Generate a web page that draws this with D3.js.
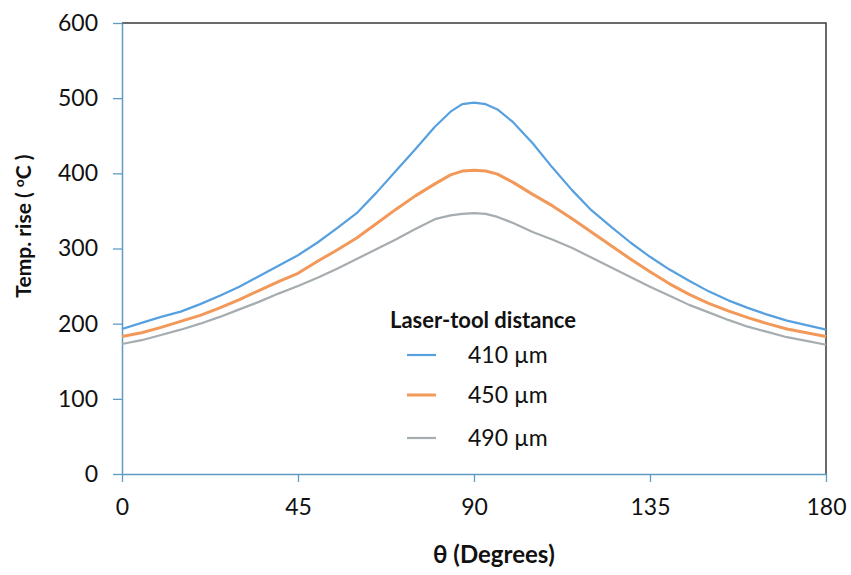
<!DOCTYPE html>
<html>
<head>
<meta charset="utf-8">
<script src="https://cdn.jsdelivr.net/npm/d3@7"></script>
<style>
  html, body { margin: 0; padding: 0; background: #fff; }
  svg { display: block; }
  text { font-family: Lato, "Open Sans", sans-serif; fill: #111; }
</style>
</head>
<body>
<svg id="chart" width="851" height="575"></svg>
<script>
// Angle positions (degrees) at which the temperature rise was sampled
const theta = [0, 5, 10, 15, 20, 25, 30, 35, 40, 45, 50, 55, 60, 65, 70, 75, 80, 84, 87, 90,
               93, 96, 100, 105, 110, 115, 120, 125, 130, 135, 140, 145, 150, 155, 160, 165, 170, 175, 180];

// Temperature rise (°C) for each laser-tool distance
const rise410 = [193, 201, 209, 216, 226, 237, 249, 263, 277, 291, 308, 327, 347, 374, 403, 432, 462, 482, 492, 494,
                 492, 485, 468, 440, 408, 378, 351, 329, 308, 289, 272, 257, 243, 231, 221, 212, 204, 198, 192];
const rise450 = [183, 188, 195, 203, 211, 221, 232, 244, 256, 267, 283, 298, 314, 333, 352, 370, 386, 398, 403, 404,
                 403, 399, 388, 372, 357, 340, 322, 304, 286, 269, 253, 239, 227, 217, 208, 200, 193, 188, 183];
const rise490 = [173, 178, 185, 192, 200, 209, 219, 229, 240, 250, 261, 273, 286, 299, 312, 326, 339, 344, 346, 347,
                 346, 342, 334, 322, 312, 301, 288, 275, 262, 249, 237, 225, 215, 205, 196, 189, 182, 177, 172];

const seriesNames = ["410 µm", "450 µm", "490 µm"];
const seriesColors = ["#57a0e0", "#f2995a", "#a6adb0"];
const seriesWidths = [2.2, 3, 2.2];

const xTicks = [0, 45, 90, 135, 180];
const yTicks = [0, 100, 200, 300, 400, 500, 600];

const svg = d3.select("#chart");
const plot = { left: 122, right: 826, top: 23, bottom: 474 };

const x = d3.scaleLinear().domain([0, 180]).range([plot.left, plot.right]);
const y = d3.scaleLinear().domain([0, 600]).range([plot.bottom, plot.top]);

// Frame: top and right edges
svg.append("path")
  .attr("d", `M${plot.left},${plot.top}H${plot.right}V${plot.bottom}`)
  .attr("fill", "none")
  .attr("stroke", "#3a3a3a")
  .attr("stroke-width", 1.5);

// Axes
const axisColor = "#5e9cc4";
const yAxis = svg.append("g")
  .attr("transform", `translate(${plot.left},0)`)
  .call(d3.axisLeft(y).tickValues(yTicks).tickSize(9).tickPadding(15).tickSizeOuter(0));
const xAxis = svg.append("g")
  .attr("transform", `translate(0,${plot.bottom})`)
  .call(d3.axisBottom(x).tickValues(xTicks).tickSize(8).tickPadding(17).tickSizeOuter(0));

[yAxis, xAxis].forEach(g => {
  g.select(".domain").attr("stroke", axisColor).attr("stroke-width", 1.5);
  g.selectAll(".tick line").attr("stroke", axisColor).attr("stroke-width", 1.3);
  g.selectAll(".tick text")
    .attr("font-family", "Lato, 'Open Sans', sans-serif")
    .attr("font-size", 23)
    .attr("fill", "#111");
});

// Curves
const series = [rise410, rise450, rise490];
const line = d3.line().x((d, i) => x(theta[i])).y(d => y(d));
series.forEach((vals, k) => {
  svg.append("path")
    .datum(vals)
    .attr("d", line)
    .attr("fill", "none")
    .attr("stroke", seriesColors[k])
    .attr("stroke-width", seriesWidths[k])
    .attr("stroke-linejoin", "round");
});

// Axis titles
svg.append("text")
  .attr("transform", "translate(31,226) rotate(-90)")
  .attr("text-anchor", "middle")
  .attr("font-size", 21)
  .attr("font-weight", "bold")
  .call(t => {
    t.append("tspan").text("Temp. rise  (  ");
    t.append("tspan").attr("font-size", 14).attr("dy", -7).text("o");
    t.append("tspan").attr("dy", 7).text("C )");
  });

svg.append("text")
  .attr("x", 494)
  .attr("y", 563)
  .attr("text-anchor", "middle")
  .attr("font-size", 24)
  .attr("font-weight", "bold")
  .text("θ (Degrees)");

// Legend
const legend = svg.append("g");
legend.append("text")
  .attr("x", 483)
  .attr("y", 328)
  .attr("text-anchor", "middle")
  .attr("font-size", 22)
  .attr("font-weight", "bold")
  .text("Laser-tool distance");

const legendY = [355, 395, 438];
seriesNames.forEach((name, k) => {
  legend.append("line")
    .attr("x1", 407).attr("x2", 436)
    .attr("y1", legendY[k]).attr("y2", legendY[k])
    .attr("stroke", seriesColors[k])
    .attr("stroke-width", seriesWidths[k]);
  legend.append("text")
    .attr("x", 468)
    .attr("y", legendY[k])
    .attr("dy", "0.35em")
    .attr("font-size", 23)
    .text(name);
});
</script>
</body>
</html>
